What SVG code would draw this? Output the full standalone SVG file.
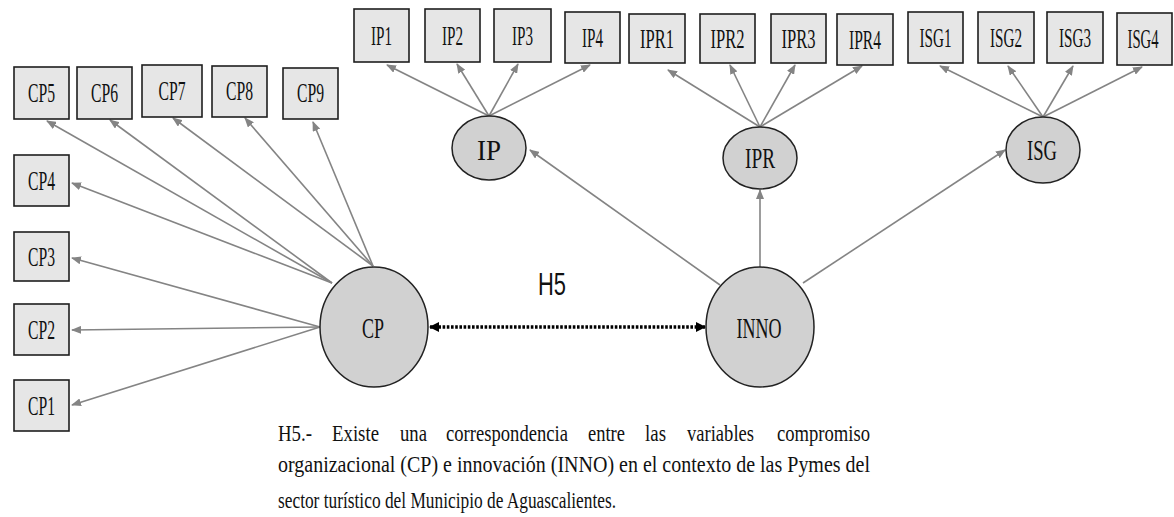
<svg xmlns="http://www.w3.org/2000/svg" width="1174" height="517" viewBox="0 0 1174 517">
  <style>
    .box { fill: #e6e6e6; stroke: #1e1e1e; stroke-width: 1.6; }
    .lat { fill: #d1d1d1; stroke: #222; stroke-width: 1.5; }
    .lbl { font-family: "Liberation Serif", "Times New Roman", serif; font-size: 28px; fill: #111; text-anchor: middle; }
    .big { font-family: "Liberation Serif", "Times New Roman", serif; font-size: 30px; fill: #111; text-anchor: middle; }
    .path { stroke: #848484; stroke-width: 1.6; fill: none; marker-end: url(#arr); }
    .cap { font-family: "Liberation Serif", "Times New Roman", serif; font-size: 24px; fill: #111; }
  </style>
  <defs>
    <marker id="arr" markerUnits="userSpaceOnUse" markerWidth="10" markerHeight="8" refX="9" refY="4" orient="auto">
      <path d="M0,0 L10,4 L0,8 z" fill="#848484"/>
    </marker>
    <marker id="dot-end" markerUnits="userSpaceOnUse" markerWidth="10" markerHeight="10" refX="9" refY="5" orient="auto-start-reverse">
      <path d="M0,0 L10,5 L0,10 z" fill="#000"/>
    </marker>
  </defs>
  <rect width="1174" height="517" fill="#fff"/>

  <!-- connectors -->
  <g id="connectors">
    <line class="path" x1="332" y1="283" x2="47" y2="121"/>
    <line class="path" x1="332" y1="283" x2="110" y2="120"/>
    <line class="path" x1="373" y1="266" x2="173" y2="118"/>
    <line class="path" x1="373" y1="266" x2="245" y2="118"/>
    <line class="path" x1="373" y1="266" x2="313" y2="122"/>
    <line class="path" x1="332" y1="283" x2="72" y2="183"/>
    <line class="path" x1="320" y1="327" x2="72" y2="258"/>
    <line class="path" x1="320" y1="327" x2="72" y2="330"/>
    <line class="path" x1="320" y1="327" x2="72" y2="405"/>

    <line class="path" x1="489" y1="116" x2="387" y2="65"/>
    <line class="path" x1="489" y1="116" x2="457" y2="64"/>
    <line class="path" x1="489" y1="116" x2="518" y2="64"/>
    <line class="path" x1="489" y1="116" x2="590" y2="65"/>

    <line class="path" x1="760" y1="127" x2="668" y2="70"/>
    <line class="path" x1="760" y1="127" x2="730" y2="65"/>
    <line class="path" x1="760" y1="127" x2="795" y2="65"/>
    <line class="path" x1="760" y1="127" x2="862" y2="66"/>

    <line class="path" x1="1043" y1="117" x2="940" y2="66"/>
    <line class="path" x1="1043" y1="117" x2="1008" y2="66"/>
    <line class="path" x1="1043" y1="117" x2="1073" y2="66"/>
    <line class="path" x1="1043" y1="117" x2="1142" y2="67"/>

    <line class="path" x1="720" y1="285" x2="530" y2="150"/>
    <line class="path" x1="760" y1="267" x2="760" y2="190"/>
    <line class="path" x1="803" y1="283" x2="1005" y2="150"/>

    <line x1="430" y1="327" x2="705" y2="327" stroke="#000" stroke-width="3.4" stroke-dasharray="2.6 1.6" marker-start="url(#dot-end)" marker-end="url(#dot-end)"/>
  </g>

  <!-- indicator boxes -->
  <g id="CP5"><rect class="box" x="14" y="67" width="55" height="52"/><text class="lbl" x="41.5" y="102" textLength="27" lengthAdjust="spacingAndGlyphs">CP5</text></g>
  <g id="CP6"><rect class="box" x="77" y="67" width="55" height="52"/><text class="lbl" x="104.5" y="102" textLength="27" lengthAdjust="spacingAndGlyphs">CP6</text></g>
  <g id="CP7"><rect class="box" x="142" y="65" width="60" height="52"/><text class="lbl" x="172" y="100" textLength="27" lengthAdjust="spacingAndGlyphs">CP7</text></g>
  <g id="CP8"><rect class="box" x="212" y="66" width="55" height="51"/><text class="lbl" x="239.5" y="100" textLength="27" lengthAdjust="spacingAndGlyphs">CP8</text></g>
  <g id="CP9"><rect class="box" x="283" y="68" width="55" height="51"/><text class="lbl" x="310.5" y="102" textLength="27" lengthAdjust="spacingAndGlyphs">CP9</text></g>
  <g id="CP4"><rect class="box" x="14" y="155" width="55" height="51"/><text class="lbl" x="41.5" y="190" textLength="27" lengthAdjust="spacingAndGlyphs">CP4</text></g>
  <g id="CP3"><rect class="box" x="14" y="232" width="55" height="49"/><text class="lbl" x="41.5" y="266" textLength="27" lengthAdjust="spacingAndGlyphs">CP3</text></g>
  <g id="CP2"><rect class="box" x="14" y="304" width="55" height="51"/><text class="lbl" x="41.5" y="339" textLength="27" lengthAdjust="spacingAndGlyphs">CP2</text></g>
  <g id="CP1"><rect class="box" x="14" y="380" width="55" height="51"/><text class="lbl" x="41.5" y="415" textLength="27" lengthAdjust="spacingAndGlyphs">CP1</text></g>

  <g id="IP1"><rect class="box" x="354" y="9" width="55" height="53"/><text class="lbl" x="381.5" y="45" textLength="21" lengthAdjust="spacingAndGlyphs">IP1</text></g>
  <g id="IP2"><rect class="box" x="425" y="9" width="55" height="53"/><text class="lbl" x="452.5" y="45" textLength="21" lengthAdjust="spacingAndGlyphs">IP2</text></g>
  <g id="IP3"><rect class="box" x="494" y="9" width="57" height="53"/><text class="lbl" x="522.5" y="45" textLength="21" lengthAdjust="spacingAndGlyphs">IP3</text></g>
  <g id="IP4"><rect class="box" x="565" y="12" width="55" height="51"/><text class="lbl" x="592.5" y="47" textLength="21" lengthAdjust="spacingAndGlyphs">IP4</text></g>

  <g id="IPR1"><rect class="box" x="629" y="14" width="56" height="49"/><text class="lbl" x="657" y="48" textLength="34" lengthAdjust="spacingAndGlyphs">IPR1</text></g>
  <g id="IPR2"><rect class="box" x="700" y="14" width="55" height="49"/><text class="lbl" x="727.5" y="48" textLength="34" lengthAdjust="spacingAndGlyphs">IPR2</text></g>
  <g id="IPR3"><rect class="box" x="771" y="14" width="55" height="49"/><text class="lbl" x="798.5" y="48" textLength="34" lengthAdjust="spacingAndGlyphs">IPR3</text></g>
  <g id="IPR4"><rect class="box" x="837" y="14" width="56" height="51"/><text class="lbl" x="865" y="49" textLength="32" lengthAdjust="spacingAndGlyphs">IPR4</text></g>

  <g id="ISG1"><rect class="box" x="908" y="12" width="55" height="51"/><text class="lbl" x="935.5" y="47" textLength="32" lengthAdjust="spacingAndGlyphs">ISG1</text></g>
  <g id="ISG2"><rect class="box" x="978" y="12" width="56" height="51"/><text class="lbl" x="1006" y="47" textLength="32" lengthAdjust="spacingAndGlyphs">ISG2</text></g>
  <g id="ISG3"><rect class="box" x="1047" y="12" width="56" height="51"/><text class="lbl" x="1075" y="47" textLength="32" lengthAdjust="spacingAndGlyphs">ISG3</text></g>
  <g id="ISG4"><rect class="box" x="1117" y="13" width="55" height="52"/><text class="lbl" x="1143" y="48" textLength="31" lengthAdjust="spacingAndGlyphs">ISG4</text></g>

  <!-- latent variables -->
  <g id="IP"><ellipse class="lat" cx="489" cy="148" rx="37" ry="32"/><text class="big" x="489" y="160" font-size="33" textLength="24" lengthAdjust="spacingAndGlyphs">IP</text></g>
  <g id="IPR"><ellipse class="lat" cx="760" cy="158" rx="37" ry="31"/><text class="big" x="760" y="168" font-size="27" textLength="30" lengthAdjust="spacingAndGlyphs">IPR</text></g>
  <g id="ISG"><ellipse class="lat" cx="1043" cy="150" rx="37" ry="33"/><text class="big" x="1042" y="160" font-size="29" textLength="30" lengthAdjust="spacingAndGlyphs">ISG</text></g>
  <g id="CP"><ellipse class="lat" cx="374" cy="327" rx="54" ry="60"/><text class="big" x="373" y="338" textLength="22" lengthAdjust="spacingAndGlyphs">CP</text></g>
  <g id="INNO"><ellipse class="lat" cx="760" cy="327" rx="54" ry="60"/><text class="big" x="759" y="338" textLength="45" lengthAdjust="spacingAndGlyphs">INNO</text></g>

  <text x="552" y="295" font-family="'Liberation Sans', Arial, sans-serif" font-size="31" fill="#111" text-anchor="middle" textLength="28" lengthAdjust="spacingAndGlyphs">H5</text>

  <!-- hypothesis statement, justified over 278..870 -->
  <g id="caption" class="cap">
    <text x="278" y="441" textLength="34" lengthAdjust="spacingAndGlyphs">H5.-</text>
    <text x="332" y="441" textLength="47" lengthAdjust="spacingAndGlyphs">Existe</text>
    <text x="400" y="441" textLength="27" lengthAdjust="spacingAndGlyphs">una</text>
    <text x="446" y="441" textLength="122" lengthAdjust="spacingAndGlyphs">correspondencia</text>
    <text x="588" y="441" textLength="37" lengthAdjust="spacingAndGlyphs">entre</text>
    <text x="645" y="441" textLength="21" lengthAdjust="spacingAndGlyphs">las</text>
    <text x="687" y="441" textLength="67" lengthAdjust="spacingAndGlyphs">variables</text>
    <text x="777" y="441" textLength="93" lengthAdjust="spacingAndGlyphs">compromiso</text>
    <text x="278" y="472" textLength="592" lengthAdjust="spacingAndGlyphs">organizacional (CP) e innovación (INNO) en el contexto de las Pymes del</text>
    <text x="278" y="508" textLength="338" lengthAdjust="spacingAndGlyphs">sector turístico del Municipio de Aguascalientes.</text>
  </g>
</svg>
